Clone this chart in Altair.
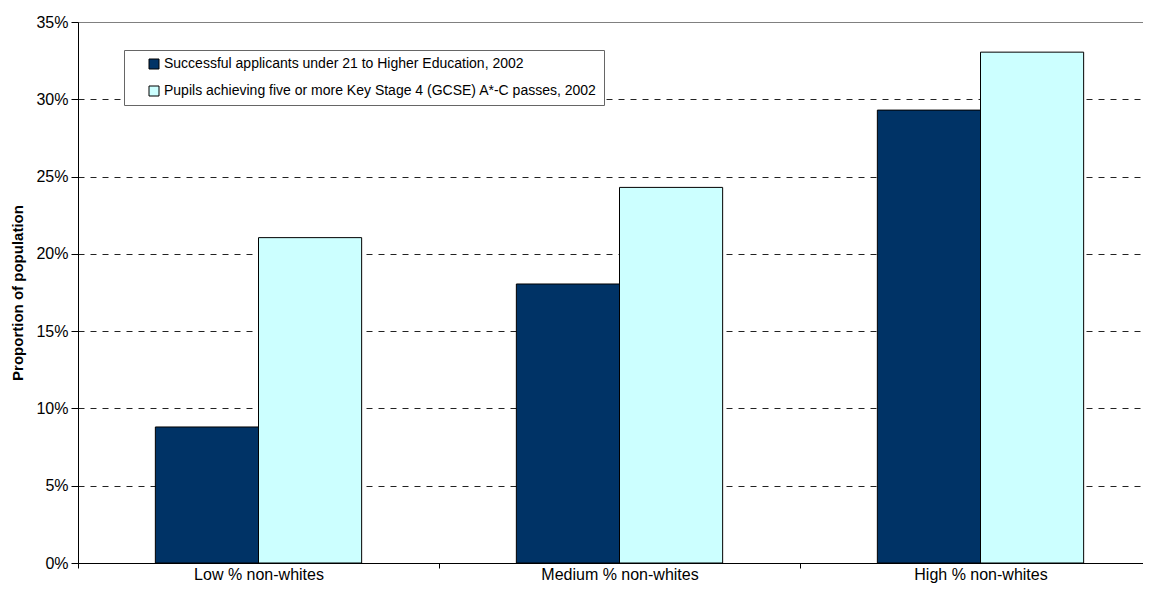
import altair as alt
import pandas as pd

categories = ["Low % non-whites", "Medium % non-whites", "High % non-whites"]
series = [
    "Successful applicants under 21 to Higher Education, 2002",
    "Pupils achieving five or more Key Stage 4 (GCSE) A*-C passes, 2002",
]
applicants = [8.8, 18.05, 29.3]
gcse = [21.05, 24.3, 33.05]
colors = ["#003366", "#CCFFFF"]
y_ticks = [0, 5, 10, 15, 20, 25, 30, 35]

rows = []
for i, c in enumerate(categories):
    rows.append({"category": c, "series": series[0], "value": applicants[i]})
    rows.append({"category": c, "series": series[1], "value": gcse[i]})
df = pd.DataFrame(rows)

FONT = "Liberation Sans"

bars = alt.Chart(df).mark_bar(stroke="black", strokeWidth=1).encode(
    x=alt.X(
        "category:N",
        sort=categories,
        scale=alt.Scale(paddingInner=0, paddingOuter=0, range=[0, 1083]),
        axis=alt.Axis(
            title=None,
            labelAngle=0,
            labelFontSize=16,
            labelFont=FONT,
            labelColor="black",
            labelBaseline="alphabetic",
            domainColor="black",
            tickColor="black",
            tickSize=5,
            tickBand="extent",
            labelPadding=11,
            grid=False,
        ),
    ),
    xOffset=alt.XOffset(
        "series:N",
        sort=series,
        scale=alt.Scale(paddingInner=0, paddingOuter=0.75),
    ),
    y=alt.Y(
        "value:Q",
        scale=alt.Scale(domain=[0, 35], nice=False),
        axis=alt.Axis(
            title="Proportion of population",
            titleFont=FONT,
            titleFontSize=15,
            titleFontWeight="bold",
            titleColor="black",
            titlePadding=10,
            values=y_ticks,
            labelExpr="datum.value + '%'",
            labelFontSize=16,
            labelFont=FONT,
            labelColor="black",
            labelPadding=3,
            domainColor="black",
            tickColor="black",
            tickSize=7,
            grid=True,
            gridColor="#222222",
            gridDash=[6, 6],
            gridWidth=1,
            gridOpacity={"condition": {"test": "datum.value <= 0 || datum.value >= 35", "value": 0}, "value": 1},
        ),
    ),
    color=alt.Color(
        "series:N",
        sort=series,
        scale=alt.Scale(domain=series, range=colors),
        legend=alt.Legend(
            title=None,
            orient="none",
            legendX=46,
            legendY=28,
            padding=7,
            symbolOffset=16,
            symbolType="square",
            symbolSize=100,
            symbolStrokeColor="black",
            symbolStrokeWidth=1,
            labelFont=FONT,
            labelFontSize=14,
            labelColor="black",
            labelOffset=3,
            labelLimit=600,
            rowPadding=13,
            strokeColor="#666666",
            fillColor="white",
        ),
    ),
)

chart = bars.properties(
    width=1065,
    height=541,
    autosize=alt.AutoSizeParams(type="none"),
    padding={"left": 70, "top": 14, "right": 0, "bottom": 21},
    background="white",
).configure_view(stroke="#808080", strokeWidth=1)

chart.save("out.html", embed_options={"renderer": "svg", "actions": False})
